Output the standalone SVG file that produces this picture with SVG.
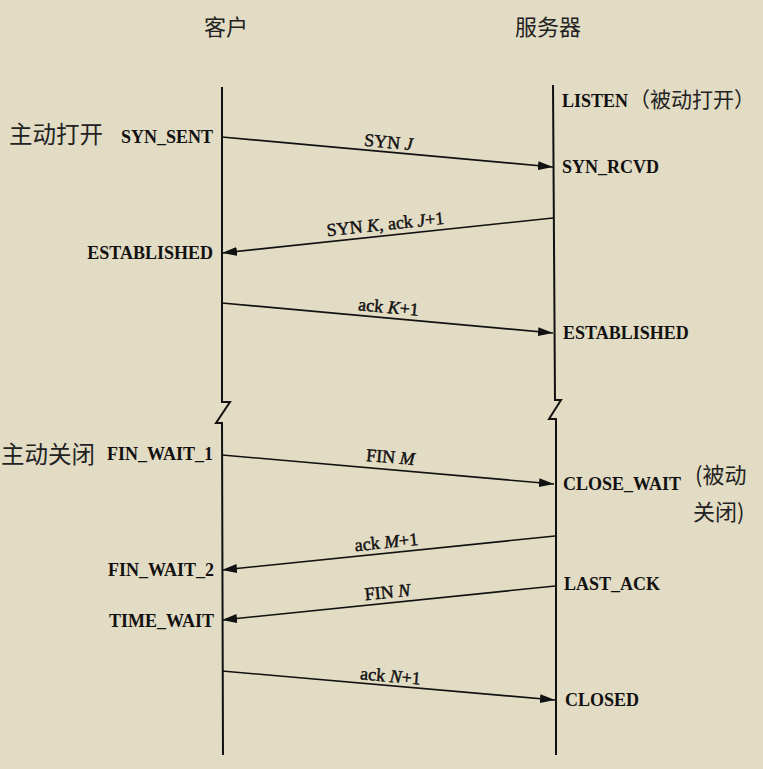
<svg xmlns="http://www.w3.org/2000/svg" width="763" height="769" viewBox="0 0 763 769">
<defs>
<marker id="ah" markerUnits="userSpaceOnUse" markerWidth="16" markerHeight="10" refX="15" refY="5" orient="auto">
<path d="M0,0.5 L15,5 L0,9.5 z" fill="#111"/>
</marker>
<style>
.st{font-family:"Liberation Serif","Noto Sans CJK SC",serif;font-weight:bold;font-size:18px;fill:#111}
.lb{font-family:"Liberation Serif","Noto Sans CJK SC",serif;font-size:18px;fill:#111;stroke:#111;stroke-width:0.45;text-anchor:middle}
.cj{font-family:"Noto Sans CJK SC",sans-serif;font-size:22px;fill:#222}
.ln{stroke:#111;stroke-width:2;fill:none}
.ar{stroke:#111;stroke-width:1.6;fill:none;marker-end:url(#ah)}
.r{text-anchor:end}
</style>
</defs>
<rect width="763" height="769" fill="#e3dcc4"/>
<g id="titles">
<text class="cj" x="204" y="35">客户</text>
<text class="cj" x="515" y="35">服务器</text>
</g>
<g id="client">
<path class="ln" d="M222,87 L222,402 L230,402 L216,423 L222,423 L223,755"/>
</g>
<g id="server">
<path class="ln" d="M553,85 L555,400 L561,400 L549,419 L556,419 L556,755"/>
</g>
<g id="connectors">
<line class="ar" x1="222" y1="137" x2="553" y2="167"/>
<line class="ar" x1="553" y1="218" x2="222" y2="253"/>
<line class="ar" x1="222" y1="303" x2="553" y2="333"/>
<line class="ar" x1="222" y1="455" x2="554" y2="484"/>
<line class="ar" x1="555" y1="536" x2="222" y2="570"/>
<line class="ar" x1="555" y1="586" x2="222" y2="620"/>
<line class="ar" x1="222" y1="671" x2="555" y2="700"/>
<text class="lb" transform="translate(388,148) rotate(5.2)">SYN <tspan font-style="italic">J</tspan></text>
<text class="lb" transform="translate(386,230) rotate(-6)">SYN <tspan font-style="italic">K</tspan>, ack <tspan font-style="italic">J</tspan>+1</text>
<text class="lb" transform="translate(388,313) rotate(5.2)">ack <tspan font-style="italic">K</tspan>+1</text>
<text class="lb" transform="translate(390,463) rotate(4.8)">FIN <tspan font-style="italic">M</tspan></text>
<text class="lb" transform="translate(387,548) rotate(-5.8)">ack <tspan font-style="italic">M</tspan>+1</text>
<text class="lb" transform="translate(388,598) rotate(-5.8)">FIN <tspan font-style="italic">N</tspan></text>
<text class="lb" transform="translate(390,682) rotate(5)">ack <tspan font-style="italic">N</tspan>+1</text>
</g>
<g id="client-states">
<text class="cj" x="9" y="143" style="font-size:23.5px">主动打开</text>
<text class="st r" x="213" y="143">SYN_SENT</text>
<text class="st r" x="213" y="259">ESTABLISHED</text>
<text class="cj" x="1" y="463" style="font-size:23.5px">主动关闭</text>
<text class="st r" x="213" y="460">FIN_WAIT_1</text>
<text class="st r" x="214" y="576">FIN_WAIT_2</text>
<text class="st r" x="214" y="627">TIME_WAIT</text>
</g>
<g id="server-states">
<text class="st" x="562" y="107">LISTEN</text>
<text class="cj" x="629" y="107" style="font-size:21px">（被动打开）</text>
<text class="st" x="562" y="173">SYN_RCVD</text>
<text class="st" x="563" y="339">ESTABLISHED</text>
<text class="st" x="563" y="490">CLOSE_WAIT</text>
<text class="cj" x="695" y="483">(被动</text>
<text class="cj" x="693" y="520">关闭)</text>
<text class="st" x="564" y="590">LAST_ACK</text>
<text class="st" x="565" y="706">CLOSED</text>
</g>
</svg>
